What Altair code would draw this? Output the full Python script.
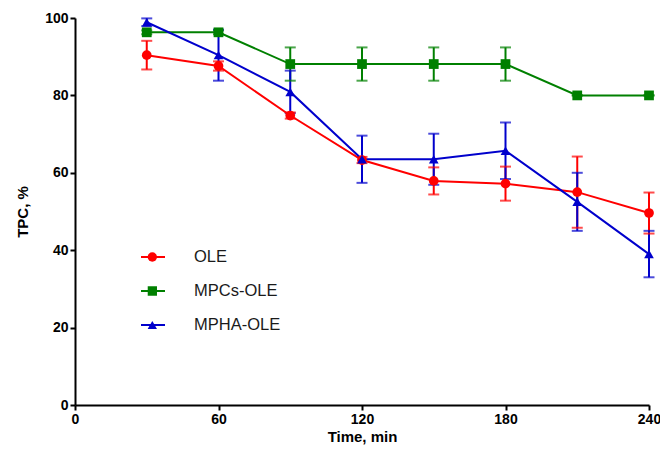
import altair as alt
import pandas as pd

times = [30, 60, 90, 120, 150, 180, 210, 240]
series_names = ["OLE", "MPCs-OLE", "MPHA-OLE"]
ole = [90.4, 87.6, 74.8, 63.3, 57.9, 57.2, 55.0, 49.6]
ole_err = [3.7, 1.2, 0.8, 0.8, 3.5, 4.4, 9.2, 5.3]
mpcs = [96.3, 96.3, 88.1, 88.1, 88.1, 88.1, 80.0, 80.0]
mpcs_err = [0.5, 0.5, 4.3, 4.3, 4.3, 4.3, 0.0, 0.0]
mpha = [98.9, 90.4, 80.9, 63.5, 63.5, 65.7, 52.5, 39.0]
mpha_err = [1.0, 6.6, 5.5, 6.1, 6.6, 7.3, 7.5, 6.0]
colors = ["#FF0000", "#008000", "#0000CC"]
marker_shapes = ["circle", "square", "triangle-up"]
x_ticks = [0, 60, 120, 180, 240]
y_ticks = [0, 20, 40, 60, 80, 100]

rows = []
for name, vals, errs in [("OLE", ole, ole_err), ("MPCs-OLE", mpcs, mpcs_err), ("MPHA-OLE", mpha, mpha_err)]:
    for t, v, e in zip(times, vals, errs):
        rows.append({"time": t, "tpc": v, "lo": v - e, "hi": v + e, "series": name, "marker": name})
df = pd.DataFrame(rows)

FONT = "Liberation Sans"
x_scale = alt.Scale(domain=[0, 240], nice=False, padding=0)
y_scale = alt.Scale(domain=[0, 100], nice=False, padding=0)
x_enc = alt.X("time:Q", scale=x_scale, axis=alt.Axis(values=x_ticks, title="Time, min"))
y_axis = alt.Axis(values=y_ticks, title="TPC, %")

LX, LY = 65, 227
line_legend = alt.Legend(orient="none", legendX=LX, legendY=LY, title=None, padding=0,
                         symbolType="stroke", symbolSize=576, symbolStrokeWidth=2,
                         clipHeight=24, rowPadding=10, labelOffset=28, symbolOpacity=1,
                         labelFont=FONT, labelFontSize=16.5, labelColor="#1a1a1a", labelLimit=300)
point_legend = alt.Legend(orient="none", legendX=LX + 12 - 4.7, legendY=LY, title=None, padding=0,
                          symbolSize=88, symbolStrokeWidth=0, symbolOpacity=1,
                          clipHeight=24, rowPadding=10, labelOffset=0, labelExpr="''",
                          labelFont=FONT, labelFontSize=1, labelLimit=1)

color_enc = alt.Color("series:N", sort=series_names, scale=alt.Scale(range=colors), legend=line_legend)

base = alt.Chart(df)

err_rule = base.mark_rule(strokeWidth=2).encode(
    x=x_enc, y=alt.Y("lo:Q", scale=y_scale, axis=y_axis), y2="hi:Q", color=color_enc)
cap_lo = base.mark_tick(orient="horizontal", size=11, thickness=2).encode(
    x=alt.X("time:Q", scale=x_scale), y=alt.Y("lo:Q", scale=y_scale), color=color_enc)
cap_hi = base.mark_tick(orient="horizontal", size=11, thickness=2).encode(
    x=alt.X("time:Q", scale=x_scale), y=alt.Y("hi:Q", scale=y_scale), color=color_enc)
lines = base.mark_line(strokeWidth=2).encode(
    x=alt.X("time:Q", scale=x_scale), y=alt.Y("tpc:Q", scale=y_scale), color=color_enc, order="time:Q")
points = base.mark_point(filled=True, size=95, opacity=1).encode(
    x=alt.X("time:Q", scale=x_scale), y=alt.Y("tpc:Q", scale=y_scale),
    fill=alt.Fill("marker:N", scale=alt.Scale(domain=series_names, range=colors), legend=point_legend),
    shape=alt.Shape("marker:N", scale=alt.Scale(domain=series_names, range=marker_shapes), legend=point_legend),
)

chart = alt.layer(err_rule, cap_lo, cap_hi, lines, points).properties(
    width=574, height=387,
    autosize=alt.AutoSizeParams(type="none"),
    padding={"left": 67, "top": 10, "right": 11, "bottom": 40},
).configure_view(stroke=None).configure_axis(
    grid=False, domainColor="black", domainWidth=2, tickColor="black", tickWidth=2, tickSize=5,
    labelFont=FONT, labelFontSize=14, labelFontWeight="bold", labelColor="black",
    titleFont=FONT, titleFontSize=15, titleFontWeight="bold", titleColor="black",
).configure_axisX(labelPadding=2, titlePadding=3, labelFlush=False).configure_axisY(
    labelPadding=2, titlePadding=14)

chart.save("out.html", embed_options={"renderer": "svg", "actions": False})
